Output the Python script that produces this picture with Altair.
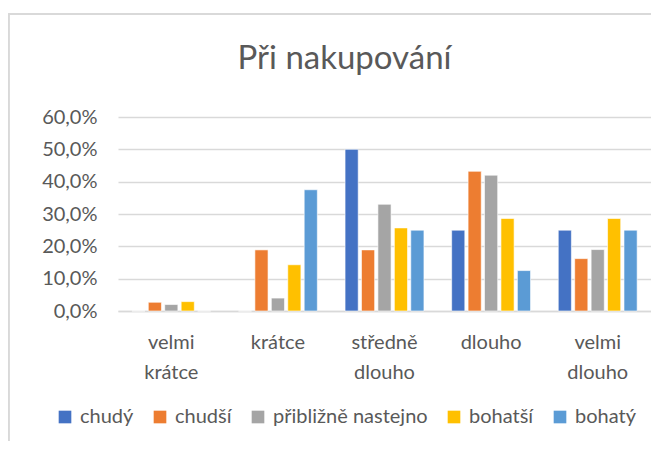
import altair as alt
import pandas as pd

categories = ["velmi krátce", "krátce", "středně dlouho", "dlouho", "velmi dlouho"]
series = ["chudý", "chudší", "přibližně nastejno", "bohatší", "bohatý"]
colors = ["#4472C4", "#ED7D31", "#A5A5A5", "#FFC000", "#5B9BD5"]
values = {
    "chudý":              [0.000, 0.000, 0.500, 0.250, 0.250],
    "chudší":             [0.027, 0.189, 0.189, 0.432, 0.162],
    "přibližně nastejno": [0.020, 0.040, 0.330, 0.420, 0.190],
    "bohatší":            [0.029, 0.143, 0.257, 0.286, 0.286],
    "bohatý":             [0.000, 0.375, 0.250, 0.125, 0.250],
}

rows = []
for s in series:
    for c, v in zip(categories, values[s]):
        rows.append({"kat": c, "serie": s, "hodnota": v})
df = pd.DataFrame(rows)

FONT = "Lato"
GREY = "#595959"
FRAME = "#d9d9d9"

bars = alt.Chart(df).mark_bar(stroke="white", strokeWidth=0.6).encode(
    x=alt.X("kat:N", sort=categories, title=None,
            scale=alt.Scale(paddingInner=0.26, paddingOuter=0.13),
            axis=alt.Axis(labelExpr="split(datum.label, ' ')", labelAngle=0,
                          labelFontSize=20, labelColor=GREY, labelFont=FONT,
                          labelPadding=21, labelLineHeight=30,
                          ticks=False, domainColor=FRAME, domainWidth=1.5,
                          grid=False)),
    xOffset=alt.XOffset("serie:N", sort=series, scale=alt.Scale(paddingInner=0.2)),
    y=alt.Y("hodnota:Q", title=None,
            scale=alt.Scale(domain=[0, 0.6]),
            axis=alt.Axis(values=[0, 0.1, 0.2, 0.3, 0.4, 0.5, 0.6],
                          labelExpr="replace(format(datum.value, '.1%'), '.', ',')",
                          labelFontSize=20, labelColor=GREY, labelFont=FONT,
                          labelPadding=21, ticks=False, domain=False,
                          gridColor=FRAME, gridWidth=1.5)),
    color=alt.Color("serie:N", sort=series,
                    scale=alt.Scale(domain=series, range=colors),
                    legend=alt.Legend(title=None, orient="none", direction="horizontal",
                                      legendX=-63, legendY=290,
                                      symbolType="square", symbolSize=160,
                                      symbolStrokeWidth=0,
                                      labelFontSize=20, labelColor=GREY, labelFont=FONT,
                                      labelOffset=5, columnPadding=16)),
)

left_edge = alt.Chart(df).mark_rule(color=FRAME, strokeWidth=1.5, clip=False).encode(
    x=alt.value(-109.5), y=alt.value(-103), y2=alt.value(340)
)
top_edge = alt.Chart(df).mark_rule(color=FRAME, strokeWidth=1.5, clip=False).encode(
    x=alt.value(-109.5), x2=alt.value(560), y=alt.value(-103)
)

chart = alt.layer(left_edge, top_edge, bars).properties(
    width=533, height=194,
    title=alt.TitleParams("Při nakupování", fontSize=33, font=FONT, color=GREY,
                          fontWeight="normal", anchor="middle", offset=-63, dx=-40),
    autosize=alt.AutoSizeParams(type="none"),
    padding={"left": 110, "top": 109, "right": 0, "bottom": 130},
).configure_view(stroke=None)

chart.save("out.html", embed_options={"renderer": "svg", "actions": False})
